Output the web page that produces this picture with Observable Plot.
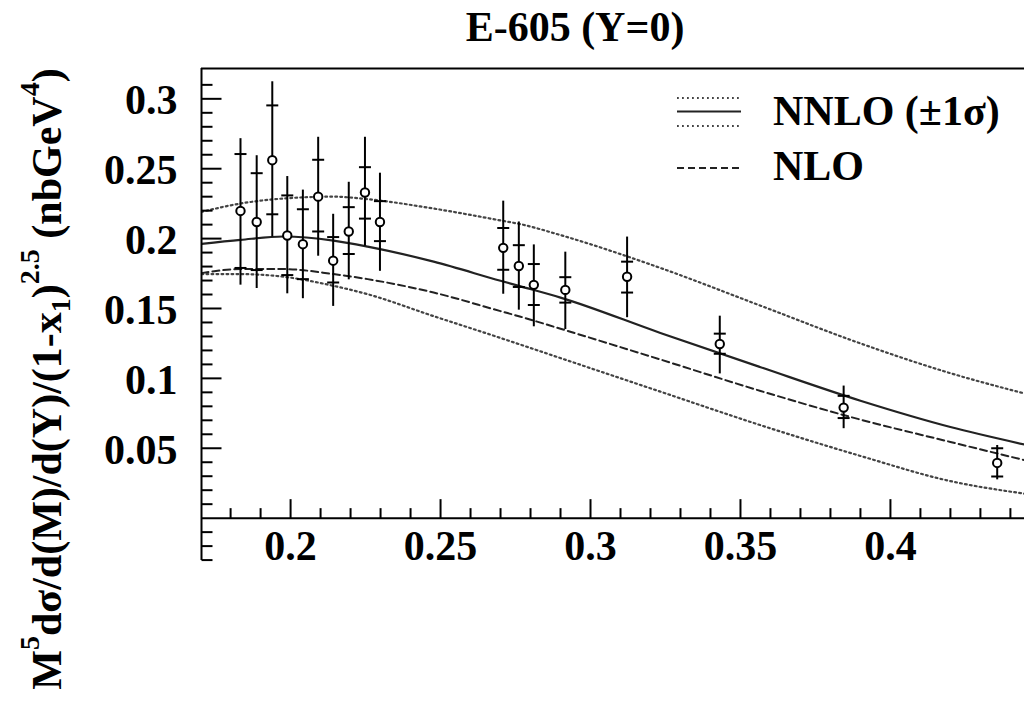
<!DOCTYPE html>
<html>
<head>
<meta charset="utf-8">
<script src="https://cdn.jsdelivr.net/npm/d3@7"></script>
<script src="https://cdn.jsdelivr.net/npm/@observablehq/plot@0.6"></script>
<style>
html, body { margin: 0; padding: 0; background: #fff; }
svg { display: block; }
</style>
</head>
<body>
<div id="chart"></div>
<script>
// ---------------- data ----------------
const title = "E-605 (Y=0)";
const legendLabels = ["NNLO (\u00B11\u03C3)", "NLO"];

// measured points
const pointX   = [0.1833, 0.1887, 0.1939, 0.1989, 0.2041, 0.2092, 0.2142, 0.2194, 0.2248, 0.2298, 0.2709, 0.2761, 0.2811, 0.2916, 0.3122, 0.3431, 0.3844, 0.4356];
const pointY   = [0.2198, 0.2119, 0.2561, 0.2022, 0.1960, 0.2300, 0.1842, 0.2051, 0.2330, 0.2119, 0.1934, 0.1804, 0.1669, 0.1633, 0.1727, 0.1246, 0.0791, 0.0395];
const statHigh = [0.2605, 0.2468, 0.2953, 0.2309, 0.2210, 0.2564, 0.2011, 0.2225, 0.2511, 0.2268, 0.2076, 0.1953, 0.1818, 0.1724, 0.1835, 0.1320, 0.0875, 0.0500];
const statLow  = [0.1790, 0.1775, 0.2174, 0.1739, 0.1710, 0.2051, 0.1686, 0.1890, 0.2143, 0.1982, 0.1777, 0.1654, 0.1525, 0.1542, 0.1614, 0.1176, 0.0716, 0.0298];
const totHigh  = [0.2715, 0.2593, 0.3122, 0.2444, 0.2347, 0.2725, 0.2174, 0.2403, 0.2725, 0.2468, 0.2268, 0.2119, 0.1955, 0.1903, 0.2011, 0.1445, 0.0945, 0.0520];
const totLow   = [0.1667, 0.1643, 0.2011, 0.1605, 0.1570, 0.1874, 0.1515, 0.1705, 0.1946, 0.1766, 0.1602, 0.1488, 0.1369, 0.1349, 0.1434, 0.1032, 0.0640, 0.0274];

// theory curves
const curveX   = [0.1703, 0.1833, 0.1977, 0.2143, 0.2257, 0.2477, 0.2700, 0.2767, 0.2900, 0.3233, 0.3567, 0.3900, 0.4200, 0.4447];
const nnlo     = [0.1962, 0.1991, 0.2015, 0.1986, 0.1943, 0.1835, 0.1698, 0.1658, 0.1578, 0.1325, 0.1080, 0.0840, 0.0652, 0.0527];
const nnloUp   = [0.2191, 0.2251, 0.2287, 0.2300, 0.2282, 0.2215, 0.2130, 0.2103, 0.2025, 0.1790, 0.1520, 0.1250, 0.1037, 0.0892];
const nnloDown = [0.1746, 0.1746, 0.1727, 0.1662, 0.1602, 0.1445, 0.1289, 0.1241, 0.1145, 0.0905, 0.0665, 0.0445, 0.0265, 0.0175];
const nlo      = [0.1753, 0.1782, 0.1782, 0.1746, 0.1710, 0.1614, 0.1481, 0.1441, 0.1355, 0.1135, 0.0910, 0.0705, 0.0545, 0.0415];

// axes
const xDomain = [0.1703, 0.4447];
const yDomain = [-0.0303, 0.3217];
const xMajor = [0.2, 0.25, 0.3, 0.35, 0.4];
const xMajorLabels = ["0.2", "0.25", "0.3", "0.35", "0.4"];
const xMinor = [0.18, 0.19, 0.21, 0.22, 0.23, 0.24, 0.26, 0.27, 0.28, 0.29, 0.31, 0.32, 0.33, 0.34, 0.36, 0.37, 0.38, 0.39, 0.41, 0.42, 0.43, 0.44];
const yMajor = [0.05, 0.1, 0.15, 0.2, 0.25, 0.3];
const yMajorLabels = ["0.05", "0.1", "0.15", "0.2", "0.25", "0.3"];
const yMinor = [-0.03, -0.02, -0.01, 0.01, 0.02, 0.03, 0.04, 0.06, 0.07, 0.08, 0.09, 0.11, 0.12, 0.13, 0.14, 0.16, 0.17, 0.18, 0.19, 0.21, 0.22, 0.23, 0.24, 0.26, 0.27, 0.28, 0.29, 0.31];

// ---------------- build ----------------
const FONT = "'Liberation Serif', 'Times New Roman', serif";
const W = 1024, H = 703;

const points = pointX.map((x, i) => ({x, y: pointY[i], sHi: statHigh[i], sLo: statLow[i], tHi: totHigh[i], tLo: totLow[i]}));
const curveData = arr => curveX.map((x, i) => ({x, y: arr[i]}));

function seg(x1, y1, x2, y2) {
  return { draw(ctx) { ctx.moveTo(x1, y1); ctx.lineTo(x2, y2); } };
}

const dotted = {stroke: "#444", strokeWidth: 2.2, strokeDasharray: "1.8,3.2"};
const dashed = {stroke: "#222", strokeWidth: 2, strokeDasharray: "7,4"};
const solid  = {stroke: "#222", strokeWidth: 2.2};

const plot = Plot.plot({
  width: W,
  height: H,
  marginLeft: 201,
  marginRight: 0,
  marginTop: 68,
  marginBottom: 143,
  x: {domain: xDomain, axis: null},
  y: {domain: yDomain, axis: null},
  style: {background: "#fff", fontFamily: FONT},
  marks: [
    Plot.line(curveData(nnloUp),   {x: "x", y: "y", curve: "monotone-x", clip: true, ...dotted}),
    Plot.line(curveData(nnloDown), {x: "x", y: "y", curve: "monotone-x", clip: true, ...dotted}),
    Plot.line(curveData(nlo),      {x: "x", y: "y", curve: "monotone-x", clip: true, ...dashed}),
    Plot.line(curveData(nnlo),     {x: "x", y: "y", curve: "monotone-x", clip: true, ...solid}),

    // frame pieces / axis lines
    Plot.ruleX([xDomain[0]], {stroke: "#000", strokeWidth: 2}),
    Plot.ruleY([yDomain[1]], {stroke: "#000", strokeWidth: 2}),
    Plot.ruleY([0], {stroke: "#000", strokeWidth: 2}),

    // y ticks (pointing inwards)
    Plot.dot(yMajor, {y: d => d, frameAnchor: "left", r: 1, symbol: seg(0, 0, 20, 0), fill: "none", stroke: "#000", strokeWidth: 2}),
    Plot.dot(yMinor, {y: d => d, frameAnchor: "left", r: 1, symbol: seg(0, 0, 11, 0), fill: "none", stroke: "#000", strokeWidth: 2}),
    // x ticks (pointing up from y = 0)
    Plot.dot(xMajor, {x: d => d, y: () => 0, r: 1, symbol: seg(0, 0, 0, -19), fill: "none", stroke: "#000", strokeWidth: 2}),
    Plot.dot(xMinor, {x: d => d, y: () => 0, r: 1, symbol: seg(0, 0, 0, -10), fill: "none", stroke: "#000", strokeWidth: 2}),

    // tick labels
    Plot.text(yMajor, {y: d => d, frameAnchor: "left", text: (d, i) => yMajorLabels[i], textAnchor: "end", lineAnchor: "middle", dx: -24, dy: 2, fontSize: 42, fontWeight: "bold", fill: "#000"}),
    Plot.text(xMajor, {x: d => d, y: () => 0, text: (d, i) => xMajorLabels[i], textAnchor: "middle", lineAnchor: "top", dy: 12, fontSize: 42, fontWeight: "bold", fill: "#000"}),

    // error bars
    Plot.ruleX(points, {x: "x", y1: "tLo", y2: "tHi", stroke: "#000", strokeWidth: 2}),
    Plot.dot(points, {x: "x", y: "sHi", r: 1, symbol: seg(-6, 0, 6, 0), fill: "none", stroke: "#000", strokeWidth: 2}),
    Plot.dot(points, {x: "x", y: "sLo", r: 1, symbol: seg(-6, 0, 6, 0), fill: "none", stroke: "#000", strokeWidth: 2}),
    Plot.dot(points, {x: "x", y: "y", r: 4.2, fill: "#fff", stroke: "#000", strokeWidth: 2})
  ]
});

document.getElementById("chart").appendChild(plot);

// ---------------- text decorations ----------------
const svg = d3.select(plot);
function styleText(sel, size) {
  return sel.style("font-family", FONT).style("font-size", size + "px").style("font-weight", "bold").style("fill", "#000");
}

// title
styleText(svg.append("text"), 42)
  .attr("x", 575).attr("y", 41).attr("text-anchor", "middle")
  .text(title);

// y axis label (rotated)
const yl = styleText(svg.append("text"), 42)
  .attr("transform", "translate(61,379) rotate(-90)")
  .attr("text-anchor", "middle");
const SUP = 28;
yl.append("tspan").text("M");
yl.append("tspan").style("font-size", SUP + "px").attr("dy", -22).text("5");
yl.append("tspan").attr("dy", 22).text("d\u03C3/d(M)/d(Y)/(1-x");
yl.append("tspan").style("font-size", SUP + "px").attr("dy", 9).text("1");
yl.append("tspan").attr("dy", -9).text(")");
yl.append("tspan").style("font-size", SUP + "px").attr("dy", -22).text("2.5");
yl.append("tspan").attr("dy", 22).text(" (nbGeV");
yl.append("tspan").style("font-size", SUP + "px").attr("dy", -22).text("4");
yl.append("tspan").attr("dy", 22).text(")");

// legend
const lg = svg.append("g");
const lx1 = 677, lx2 = 741;
function legLine(y, st) {
  const l = lg.append("line").attr("x1", lx1).attr("x2", lx2).attr("y1", y).attr("y2", y)
    .attr("stroke", st.stroke).attr("stroke-width", st.strokeWidth);
  if (st.strokeDasharray) l.attr("stroke-dasharray", st.strokeDasharray);
}
legLine(98, dotted);
legLine(111.5, solid);
legLine(126, dotted);
legLine(168, dashed);
styleText(lg.append("text"), 42).attr("x", 773).attr("y", 125).attr("text-anchor", "start").text(legendLabels[0]);
styleText(lg.append("text"), 42).attr("x", 773).attr("y", 180).attr("text-anchor", "start").text(legendLabels[1]);
</script>
</body>
</html>
